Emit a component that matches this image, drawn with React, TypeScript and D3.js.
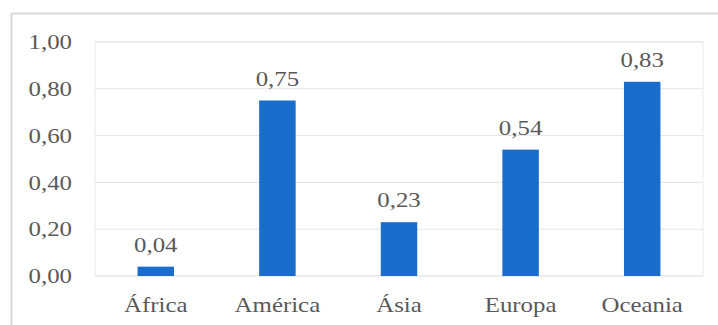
import * as d3 from 'd3';

const categories = ['África', 'América', 'Ásia', 'Europa', 'Oceania'];
const values = [0.04, 0.75, 0.23, 0.54, 0.83];
const yTicks = [0, 0.2, 0.4, 0.6, 0.8, 1.0];

const W = 718;
const H = 325;
const margin = { top: 42, right: 15, bottom: 49, left: 95 };
const FONT = 'Liberation Serif';
const BAR = '#1a6dca';
const TEXT = '#595959';
const SX = 1.13; // reference text looks a bit stretched sideways

const fmt = (v: number) => v.toFixed(2).replace('.', ',');

function Label({ x, y, anchor, dy, children }: { x: number; y: number; anchor: string; dy?: string; children: string }) {
  return (
    <g transform={`translate(${x},${y}) scale(${SX},1)`}>
      <text textAnchor={anchor} dy={dy} fontFamily={FONT} fontSize={22} fill={TEXT}>
        {children}
      </text>
    </g>
  );
}

export default function App() {
  const innerW = W - margin.left - margin.right;
  const innerH = H - margin.top - margin.bottom;

  const x = d3
    .scaleBand()
    .domain(categories)
    .range([0, innerW])
    .paddingInner(0.7)
    .paddingOuter(0.35);
  const y = d3.scaleLinear().domain([0, 1]).range([innerH, 0]);

  return (
    <svg
      width={W}
      height={H}
      style={{ position: 'absolute', left: 0, top: 0, background: '#fff' }}
    >
      {/* outer frame (only left and top visible in crop) */}
      <line x1={11.5} y1={13.5} x2={W} y2={13.5} stroke="#d9d9d9" strokeWidth={2} />
      <line x1={11.5} y1={13.5} x2={11.5} y2={H} stroke="#d9d9d9" strokeWidth={2} />
      <g transform={`translate(${margin.left},${margin.top})`}>
        <rect x={0} y={0} width={innerW} height={innerH} fill="none" stroke="#ececec" />
        {yTicks.map((t) => (
          <g key={t}>
            <line x1={0} x2={innerW} y1={y(t)} y2={y(t)} stroke="#e4e4e4" strokeWidth={1} />
            <Label x={-23} y={y(t)} anchor="end" dy="0.33em">
              {fmt(t)}
            </Label>
          </g>
        ))}
        {categories.map((c, i) => {
          const cx = (x(c) || 0) + x.bandwidth() / 2;
          return (
            <g key={c}>
              <rect
                x={x(c)}
                y={y(values[i])}
                width={x.bandwidth()}
                height={innerH - y(values[i])}
                fill={BAR}
              />
              <Label x={cx} y={y(values[i]) - 15} anchor="middle">
                {fmt(values[i])}
              </Label>
              <Label x={cx} y={innerH + 36} anchor="middle">
                {c}
              </Label>
            </g>
          );
        })}
      </g>
    </svg>
  );
}
